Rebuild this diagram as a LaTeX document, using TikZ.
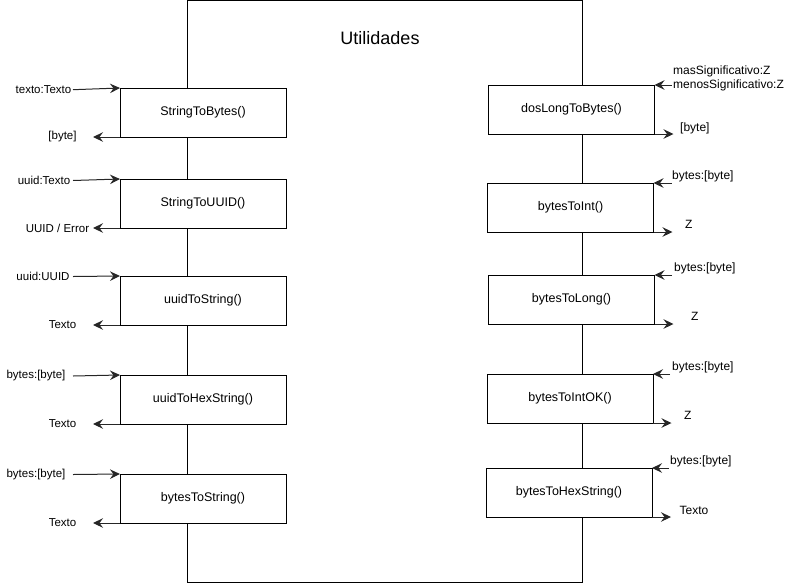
\documentclass[tikz,border=0pt]{standalone}
\usepackage{fontspec}
\setmainfont{Liberation Sans}
\usetikzlibrary{arrows.meta}
\newcommand{\fnlabel}[1]{\raisebox{-2pt}{#1}}
\tikzset{
  fn/.style={draw=black, line width=1pt, fill=white, minimum width=166pt, minimum height=49pt, inner sep=0pt, outer sep=0pt, font=\fontsize{12.5}{15}\selectfont},
  lbl/.style={inner sep=0pt, font=\fontsize{11.5}{14}\selectfont},
  rlbl/.style={inner sep=0pt, anchor=west, font=\fontsize{12}{14}\selectfont},
  arr/.style={draw=black!85, line width=1pt, -{Stealth[length=10pt,width=9.5pt,inset=3.5pt]}},
}
\begin{document}
\begin{tikzpicture}[x=1pt,y=-1pt]
\useasboundingbox (0,0) rectangle (786,584);
\draw[line width=1pt] (187,0.5) rectangle (582,582);
\node[font=\fontsize{18}{22}\selectfont] (title) at (380,38) {Utilidades};

% left boxes
\node[fn] (L1) at (203,112.5) {\fnlabel{StringToBytes()}};
\node[fn] (L2) at (203,203.5) {\fnlabel{StringToUUID()}};
\node[fn] (L3) at (203,300.5) {\fnlabel{uuidToString()}};
\node[fn] (L4) at (203,399.5) {\fnlabel{uuidToHexString()}};
\node[fn] (L5) at (203,498.5) {\fnlabel{bytesToString()}};

% right boxes
\node[fn] (R1) at (571.5,109.5) {\fnlabel{dosLongToBytes()}};
\node[fn] (R2) at (570.5,207.5) {\fnlabel{bytesToInt()}};
\node[fn] (R3) at (571.5,299.5) {\fnlabel{bytesToLong()}};
\node[fn] (R4) at (570,398.5) {\fnlabel{bytesToIntOK()}};
\node[fn] (R5) at (569,492.5) {\fnlabel{bytesToHexString()}};

% left labels
\node[lbl] (i1) at (43.5,89.5) {texto:Texto};
\node[lbl] (o1) at (62.5,137) {[byte]};
\node[lbl] (i2) at (44,180.5) {uuid:Texto};
\node[lbl] (o2) at (57.5,228) {UUID / Error};
\node[lbl] (i3) at (43,276) {uuid:UUID};
\node[lbl] (o3) at (62.5,324.5) {Texto};
\node[lbl] (i4) at (36,376) {bytes:[byte]};
\node[lbl] (o4) at (62.5,424) {Texto};
\node[lbl] (i5) at (36,474.5) {bytes:[byte]};
\node[lbl] (o5) at (62.5,522.5) {Texto};

\coordinate (ci1) at (73,89.7);
\coordinate (ci2) at (73,180.5);
\coordinate (ci3) at (73,276.5);
\coordinate (ci4) at (73,376);
\coordinate (ci5) at (73,474.5);
\coordinate (co1) at (93,137);
\coordinate (co2) at (93,228);
\coordinate (co3) at (93,325);
\coordinate (co4) at (93,424);
\coordinate (co5) at (93,523);

\draw[arr] (ci1) -- (L1.north west);
\draw[arr] (L1.south west) -- (co1);
\draw[arr] (ci2) -- (L2.north west);
\draw[arr] (L2.south west) -- (co2);
\draw[arr] (ci3) -- (L3.north west);
\draw[arr] (L3.south west) -- (co3);
\draw[arr] (ci4) -- (L4.north west);
\draw[arr] (L4.south west) -- (co4);
\draw[arr] (ci5) -- (L5.north west);
\draw[arr] (L5.south west) -- (co5);

% right labels
\node[rlbl] (ri1a) at (673,71) {masSignificativo:Z};
\node[rlbl] (ri1b) at (673,85.5) {menosSignificativo:Z};
\node[rlbl] (ro1) at (680,128.5) {[byte]};
\node[rlbl] (ri2) at (672,176.5) {bytes:[byte]};
\node[rlbl] (ro2) at (685,224) {Z};
\node[rlbl] (ri3) at (674,268) {bytes:[byte]};
\node[rlbl] (ro3) at (691,316.5) {Z};
\node[rlbl] (ri4) at (672,367) {bytes:[byte]};
\node[rlbl] (ro4) at (684,415) {Z};
\node[rlbl] (ri5) at (670,461) {bytes:[byte]};
\node[rlbl] (ro5) at (679.5,510.5) {Texto};

\coordinate (cri1) at (671.5,85);
\coordinate (cri2) at (671.5,183);
\coordinate (cri3) at (672,275);
\coordinate (cri4) at (670,374);
\coordinate (cri5) at (669,468);
\coordinate (cro1) at (673.5,134);
\coordinate (cro2) at (672.5,232);
\coordinate (cro3) at (673.5,324);
\coordinate (cro4) at (671.5,423);
\coordinate (cro5) at (671,517);

\draw[arr] (cri1) -- (R1.north east);
\draw[arr] (R1.south east) -- (cro1);
\draw[arr] (cri2) -- (R2.north east);
\draw[arr] (R2.south east) -- (cro2);
\draw[arr] (cri3) -- (R3.north east);
\draw[arr] (R3.south east) -- (cro3);
\draw[arr] (cri4) -- (R4.north east);
\draw[arr] (R4.south east) -- (cro4);
\draw[arr] (cri5) -- (R5.north east);
\draw[arr] (R5.south east) -- (cro5);
\end{tikzpicture}
\end{document}
